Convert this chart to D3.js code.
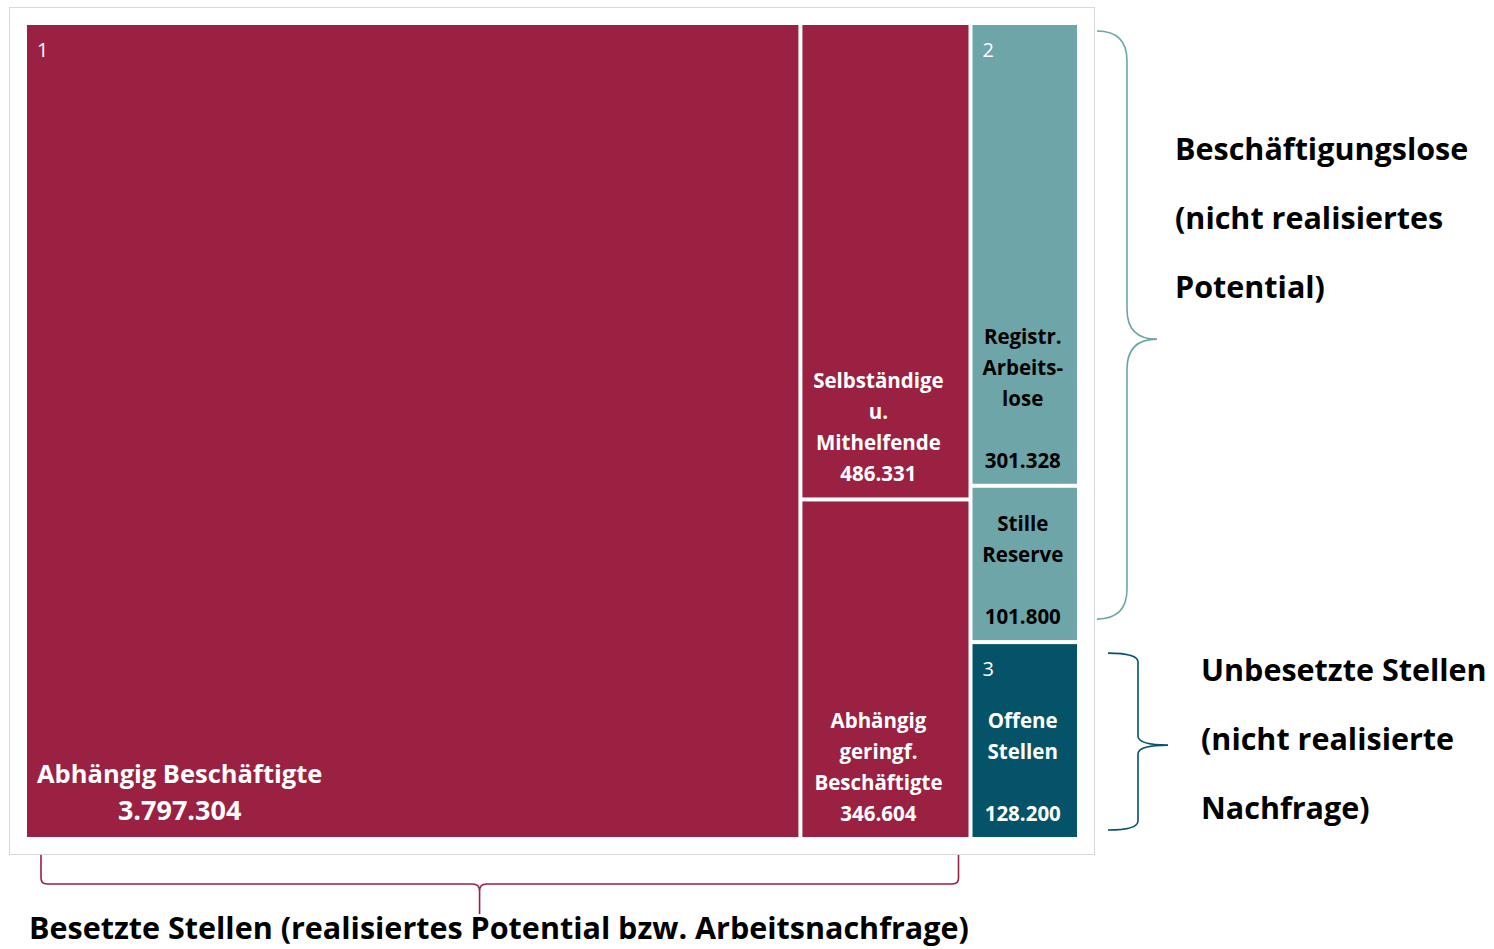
<!DOCTYPE html>
<html>
<head>
<meta charset="utf-8">
<script src="https://cdn.jsdelivr.net/npm/d3@7"></script>
<style>
  body { margin: 0; background: #fff; }
  svg { display: block; }
  text { font-family: "Open Sans", Lato, sans-serif; }
</style>
</head>
<body>
<svg id="chart"></svg>
<script>
// Data
const groups = ["1", "2", "3"];
const categories = [
  "Abhängig Beschäftigte",
  "Selbständige u. Mithelfende",
  "Abhängig geringf. Beschäftigte",
  "Registr. Arbeitslose",
  "Stille Reserve",
  "Offene Stellen"
];
const values = [3797304, 486331, 346604, 301328, 101800, 128200];
const groupOf = ["1", "1", "1", "2", "2", "3"];
const labelLines = [
  ["Abhängig Beschäftigte"],
  ["Selbständige", "u.", "Mithelfende"],
  ["Abhängig", "geringf.", "Beschäftigte"],
  ["Registr.", "Arbeits-", "lose", ""],
  ["Stille", "Reserve", ""],
  ["Offene", "Stellen", ""]
];
const groupColors = { "1": "#9b2142", "2": "#6da5a8", "3": "#055368" };
const groupTextColors = { "1": "#fff", "2": "#000", "3": "#fff" };
const braceLabels = {
  "1": ["Besetzte Stellen (realisiertes Potential bzw. Arbeitsnachfrage)"],
  "2": ["Beschäftigungslose", "(nicht realisiertes", "Potential)"],
  "3": ["Unbesetzte Stellen", "(nicht realisierte", "Nachfrage)"]
};

const width = 1494, height = 949;
const margin = { left: 27, top: 25 };
const mapW = 1050, mapH = 812;
const labelShift = { "1": -7, "2": -2, "3": -2 };

const de = d3.formatLocale({ decimal: ",", thousands: ".", grouping: [3], currency: ["", " €"] });
const fmt = de.format(",d");

const svg = d3.select("#chart").attr("width", width).attr("height", height);

// frame around the treemap
svg.append("rect")
  .attr("x", 9.5).attr("y", 7.5)
  .attr("width", mapW + 2 * (margin.left - 9) - 1)
  .attr("height", mapH + 2 * (margin.top - 7) - 1)
  .attr("fill", "#fff")
  .attr("stroke", "#d9d9d9");

const rootData = {
  children: groups.map(g => ({
    name: g,
    children: categories
      .map((c, i) => ({ name: c, value: values[i], i }))
      .filter(d => groupOf[d.i] === g)
  }))
};

const root = d3.hierarchy(rootData)
  .sum(d => d.value || 0)
  .sort((a, b) => b.value - a.value);

d3.treemap()
  .size([mapW, mapH])
  .paddingInner(4)
  .tile(d3.treemapSquarify)(root);

const g = svg.append("g").attr("transform", `translate(${margin.left},${margin.top})`);

const leaves = g.selectAll("g.leaf")
  .data(root.leaves())
  .join("g")
  .attr("class", "leaf");

leaves.append("rect")
  .attr("x", d => d.x0)
  .attr("y", d => d.y0)
  .attr("width", d => d.x1 - d.x0)
  .attr("height", d => d.y1 - d.y0)
  .attr("fill", d => groupColors[d.parent.data.name]);

// labels of the small tiles
leaves.filter(d => d.data.i !== 0).each(function (d) {
  const grp = d.parent.data.name;
  const lines = labelLines[d.data.i].concat([fmt(d.data.value)]);
  const cx = (d.x0 + d.x1) / 2 + labelShift[grp];
  const n = lines.length;
  d3.select(this).selectAll("text.lbl")
    .data(lines)
    .join("text")
    .attr("class", "lbl")
    .attr("x", cx)
    .attr("y", (t, k) => d.y1 - 16 - (n - 1 - k) * 31)
    .attr("text-anchor", "middle")
    .attr("font-size", 20.5)
    .attr("font-weight", "bold")
    .attr("fill", groupTextColors[grp])
    .text(t => t);
});

// label of the big tile
leaves.filter(d => d.data.i === 0).each(function (d) {
  const sel = d3.select(this);
  const name = sel.append("text")
    .attr("x", d.x0 + 10)
    .attr("y", d.y1 - 54)
    .attr("font-size", 25.5)
    .attr("font-weight", "bold")
    .attr("fill", "#fff")
    .text(labelLines[0][0]);
  const w = name.node().getComputedTextLength();
  sel.append("text")
    .attr("x", d.x0 + 10 + w / 2)
    .attr("y", d.y1 - 17)
    .attr("text-anchor", "middle")
    .attr("font-size", 27)
    .attr("font-weight", "bold")
    .attr("fill", "#fff")
    .text(fmt(d.data.value));
});

// group numbers
g.selectAll("text.grp")
  .data(root.children)
  .join("text")
  .attr("class", "grp")
  .attr("x", d => d.x0 + 10)
  .attr("y", d => d.y0 + 32)
  .attr("font-size", 20)
  .attr("fill", "#fff")
  .text(d => d.data.name);

// braces
function vBrace(x0, xm, x1, ya, yb, re, rt, f) {
  const ym = ya + (yb - ya) * f;
  return `M${x0},${ya} Q${xm},${ya} ${xm},${ya + re} L${xm},${ym - rt} Q${xm},${ym} ${x1},${ym}` +
         ` Q${xm},${ym} ${xm},${ym + rt} L${xm},${yb - re} Q${xm},${yb} ${x0},${yb}`;
}
function hBrace(xa, xb, y0, ym, y1, re, rt, f) {
  const xt = xa + (xb - xa) * f;
  return `M${xa},${y0} L${xa},${ym - re} Q${xa},${ym} ${xa + re},${ym} L${xt - rt},${ym} Q${xt},${ym} ${xt},${ym + rt} L${xt},${y1}` +
         ` M${xt},${ym + rt} Q${xt},${ym} ${xt + rt},${ym} L${xb - re},${ym} Q${xb},${ym} ${xb},${ym - re} L${xb},${y0}`;
}

const byName = {};
root.children.forEach(n => byName[n.data.name] = n);
const ox = margin.left, oy = margin.top;

const n2 = byName["2"], n3 = byName["3"], n1 = byName["1"];
const bx = ox + mapW;

svg.append("path")
  .attr("d", vBrace(bx + 20, bx + 50, bx + 80, oy + n2.y0 + 6, oy + n2.y1 - 21, 30, 30, 0.524))
  .attr("fill", "none").attr("stroke", groupColors["2"]).attr("stroke-width", 1.6);

svg.append("path")
  .attr("d", vBrace(bx + 31, bx + 61, bx + 91, oy + n3.y0 + 9, oy + n3.y1 - 7, 9, 9, 0.52))
  .attr("fill", "none").attr("stroke", groupColors["3"]).attr("stroke-width", 1.6);

svg.append("path")
  .attr("d", hBrace(ox + n1.x0 + 14, ox + n1.x1 - 10, oy + mapH + 18, oy + mapH + 47, oy + mapH + 77, 6, 7, 0.478))
  .attr("fill", "none").attr("stroke", groupColors["1"]).attr("stroke-width", 1.6);

// brace labels
function addLines(lines, x, y, step) {
  svg.append("g").selectAll("text")
    .data(lines)
    .join("text")
    .attr("x", x)
    .attr("y", (t, k) => y + k * step)
    .attr("font-size", 30.5)
    .attr("font-weight", "bold")
    .attr("fill", "#000")
    .text(t => t);
}
addLines(braceLabels["2"], bx + 98, 160, 69);
addLines(braceLabels["3"], bx + 124, 681, 69);
addLines(braceLabels["1"], 29, 939, 0);
</script>
</body>
</html>
